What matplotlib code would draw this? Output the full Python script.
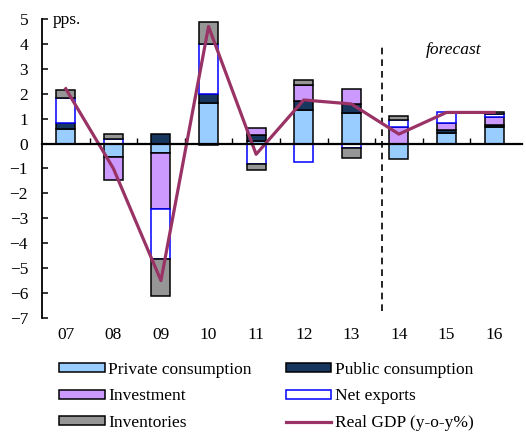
import numpy as np
import matplotlib
matplotlib.use('Agg')
import matplotlib.pyplot as plt
from matplotlib.patches import Patch
from matplotlib.lines import Line2D
from matplotlib.transforms import blended_transform_factory

# contributions to GDP growth, pps.
years = ['07', '08', '09', '10', '11', '12', '13', '14', '15', '16']
private = [0.58, -0.55, -0.39, 1.63, 0.10, 1.33, 1.21, -0.63, 0.42, 0.67]
public = [0.23, 0.00, 0.40, 0.37, 0.23, 0.36, 0.38, 0.00, 0.12, 0.08]
investment = [0.00, -0.90, -2.25, -0.05, 0.30, 0.65, 0.60, 0.65, 0.27, 0.30]
net_exports = [1.03, 0.20, -1.98, 1.99, -0.83, -0.74, -0.17, 0.31, 0.44, 0.13]
inventories = [0.32, 0.19, -1.51, 0.87, -0.23, 0.20, -0.40, 0.13, 0.00, 0.07]
gdp = [2.2, -1.0, -5.5, 4.7, -0.43, 1.75, 1.59, 0.38, 1.25, 1.25]

plt.rcParams['font.family'] = ['Liberation Serif', 'DejaVu Serif']
plt.rcParams['font.size'] = 12.5

fig = plt.figure(figsize=(5.26, 4.32), dpi=100)
ax = fig.add_axes([0.0798, 0.264, 0.912, 0.692])

x = np.arange(len(years))
series = [
    ('Private consumption', private, '#99CCFF', 'black'),
    ('Public consumption', public, '#17375E', 'black'),
    ('Investment', investment, '#CC99FF', 'black'),
    ('Net exports', net_exports, 'white', '#0000FF'),
    ('Inventories', inventories, '#969696', 'black'),
]

pos_bottom = np.zeros(len(years))
neg_bottom = np.zeros(len(years))
handles = {}
for name, vals, fc, ec in series:
    vals = np.array(vals)
    bottom = np.where(vals >= 0, pos_bottom, neg_bottom)
    bars = ax.bar(x, vals, width=0.4, bottom=bottom, color=fc,
                  edgecolor=ec, linewidth=1.1, zorder=2)
    for b, v in zip(bars, vals):
        if v == 0:
            b.set_visible(False)
    pos_bottom += np.where(vals > 0, vals, 0)
    neg_bottom += np.where(vals < 0, vals, 0)
    handles[name] = Patch(facecolor=fc, edgecolor=ec, linewidth=1.1)

ax.plot(x, gdp, color='#993366', linewidth=2.3, zorder=3)
handles['Real GDP (y-o-y%)'] = Line2D([], [], color='#993366', linewidth=2.3)

# forecast separator
ax.plot([6.65, 6.65], [-6.72, 3.95], color='black', linewidth=1.2,
        dashes=(4, 3), zorder=1)
ax.text(8.15, 3.75, 'forecast', style='italic', ha='center', va='center')
ax.text(-0.27, 4.95, 'pps.', ha='left', va='center')

ax.set_xlim(-0.5, 9.58)
ax.set_ylim(-7, 5)
ax.set_yticks(range(-7, 6))
ax.tick_params(axis='y', direction='in', length=4, width=1.1, pad=10)

ax.spines['top'].set_visible(False)
ax.spines['right'].set_visible(False)
ax.spines['left'].set_linewidth(1.3)
ax.spines['bottom'].set_position(('data', 0))
ax.spines['bottom'].set_linewidth(1.6)
ax.spines['bottom'].set_zorder(4)

ax.set_xticks([])
ax.set_xticks(np.arange(0.5, 9.5, 1), minor=True)
ax.tick_params(axis='x', which='minor', direction='in', length=4,
               width=1.0, labelbottom=False)

trans = blended_transform_factory(ax.transData, ax.transAxes)
for xi, lab in zip(x, years):
    ax.text(xi, -0.03, lab, transform=trans, ha='center', va='top')

order = ['Private consumption', 'Investment', 'Inventories',
         'Public consumption', 'Net exports', 'Real GDP (y-o-y%)']
fig.legend([handles[k] for k in order], order, ncol=2, frameon=False,
           loc='upper left', bbox_to_anchor=(0.113, 0.163),
           handlelength=2.6, handleheight=0.42, handletextpad=0.2,
           labelspacing=0.62, columnspacing=2.0, borderaxespad=0,
           borderpad=0)

fig.savefig('out.png', dpi=100)
